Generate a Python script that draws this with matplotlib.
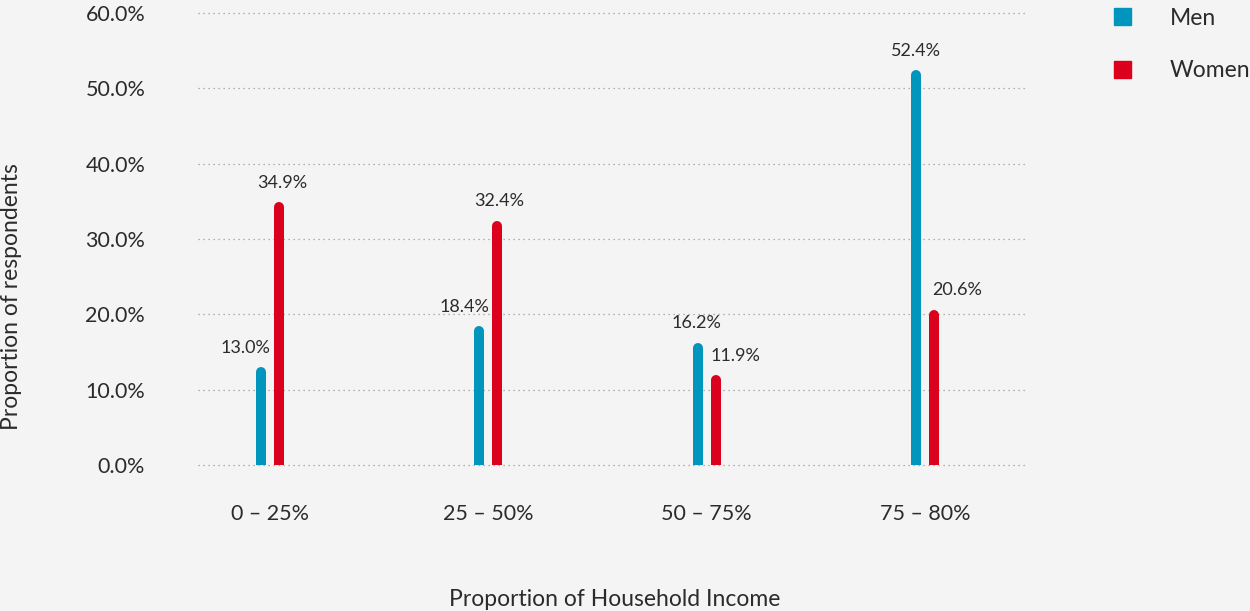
from matplotlib import pyplot as plt
from matplotlib import transforms
from matplotlib.patches import Patch
import numpy as np

# 数据
categories = ['0 – 25%', '25 – 50%', '50 – 75%', '75 – 80%']
men = [13.0, 18.4, 16.2, 52.4]
women = [34.9, 32.4, 11.9, 20.6]
yticks = [0, 10, 20, 30, 40, 50, 60]

blue = '#0095bd'
red = '#db001c'
txt = '#2b2b2b'
bg = '#f4f4f4'

plt.rcParams['font.family'] = ['Lato', 'DejaVu Sans']

fig = plt.figure(figsize=(12.5, 6.11), dpi=100, facecolor=bg)
ax = fig.add_axes([0.1584, 0.2390, 0.664, 0.7397], facecolor=bg)

x = np.arange(len(categories))
off = 0.041
lw = 7.2  # 10px
# 圆角柱子: 圆头线段向下平移半个线宽
shift = transforms.offset_copy(ax.transData, fig=fig, x=0, y=-lw / 2, units='points')

# 标签偏移 (points)
men_dx = [-11, -11, -1, 0]
women_dx = [2, 1.5, 14, 16.5]

for i in range(len(categories)):
    ax.plot([x[i] - off, x[i] - off], [0, men[i]], color=blue, lw=lw,
            solid_capstyle='round', transform=shift, zorder=3)
    ax.plot([x[i] + off, x[i] + off], [0, women[i]], color=red, lw=lw,
            solid_capstyle='round', transform=shift, zorder=3)
    ax.annotate('%.1f%%' % men[i], (x[i] - off, men[i]), xytext=(men_dx[i], 14),
                textcoords='offset points', ha='center', va='center',
                fontsize=13, color=txt)
    ax.annotate('%.1f%%' % women[i], (x[i] + off, women[i]), xytext=(women_dx[i], 14),
                textcoords='offset points', ha='center', va='center',
                fontsize=13, color=txt)

ax.set_xlim(-0.33, 3.472)
ax.set_ylim(0, 60)
ax.set_yticks(yticks)
ax.set_yticklabels(['%.1f%%' % v for v in yticks])
ax.set_xticks(x)
ax.set_xticklabels(categories)
ax.grid(axis='y', linestyle=(0, (1, 3)), color='#9a9a9a', lw=0.9)
for gl in ax.get_ygridlines():
    gl.set_clip_on(False)
ax.set_axisbelow(True)
for s in ax.spines.values():
    s.set_visible(False)
ax.tick_params(axis='both', length=0, labelsize=15.5, colors=txt)
ax.tick_params(axis='y', pad=38)
ax.tick_params(axis='x', pad=28)

fig.text(0.492, 0.019, 'Proportion of Household Income', ha='center', va='center',
         fontsize=16.5, color=txt)
fig.text(0.009, 0.514, 'Proportion of respondents', ha='center', va='center',
         rotation=90, fontsize=16.5, color=txt)

handles = [Patch(color=blue, label='Men'), Patch(color=red, label='Women')]
fig.legend(handles=handles, loc='upper left', bbox_to_anchor=(0.891, 0.9876),
           frameon=False, fontsize=16.5, handlelength=0.75, handleheight=0.75,
           handletextpad=1.7, labelspacing=1.38, borderpad=0, borderaxespad=0,
           labelcolor=txt)

plt.savefig('out.png', dpi=100, facecolor=bg)
